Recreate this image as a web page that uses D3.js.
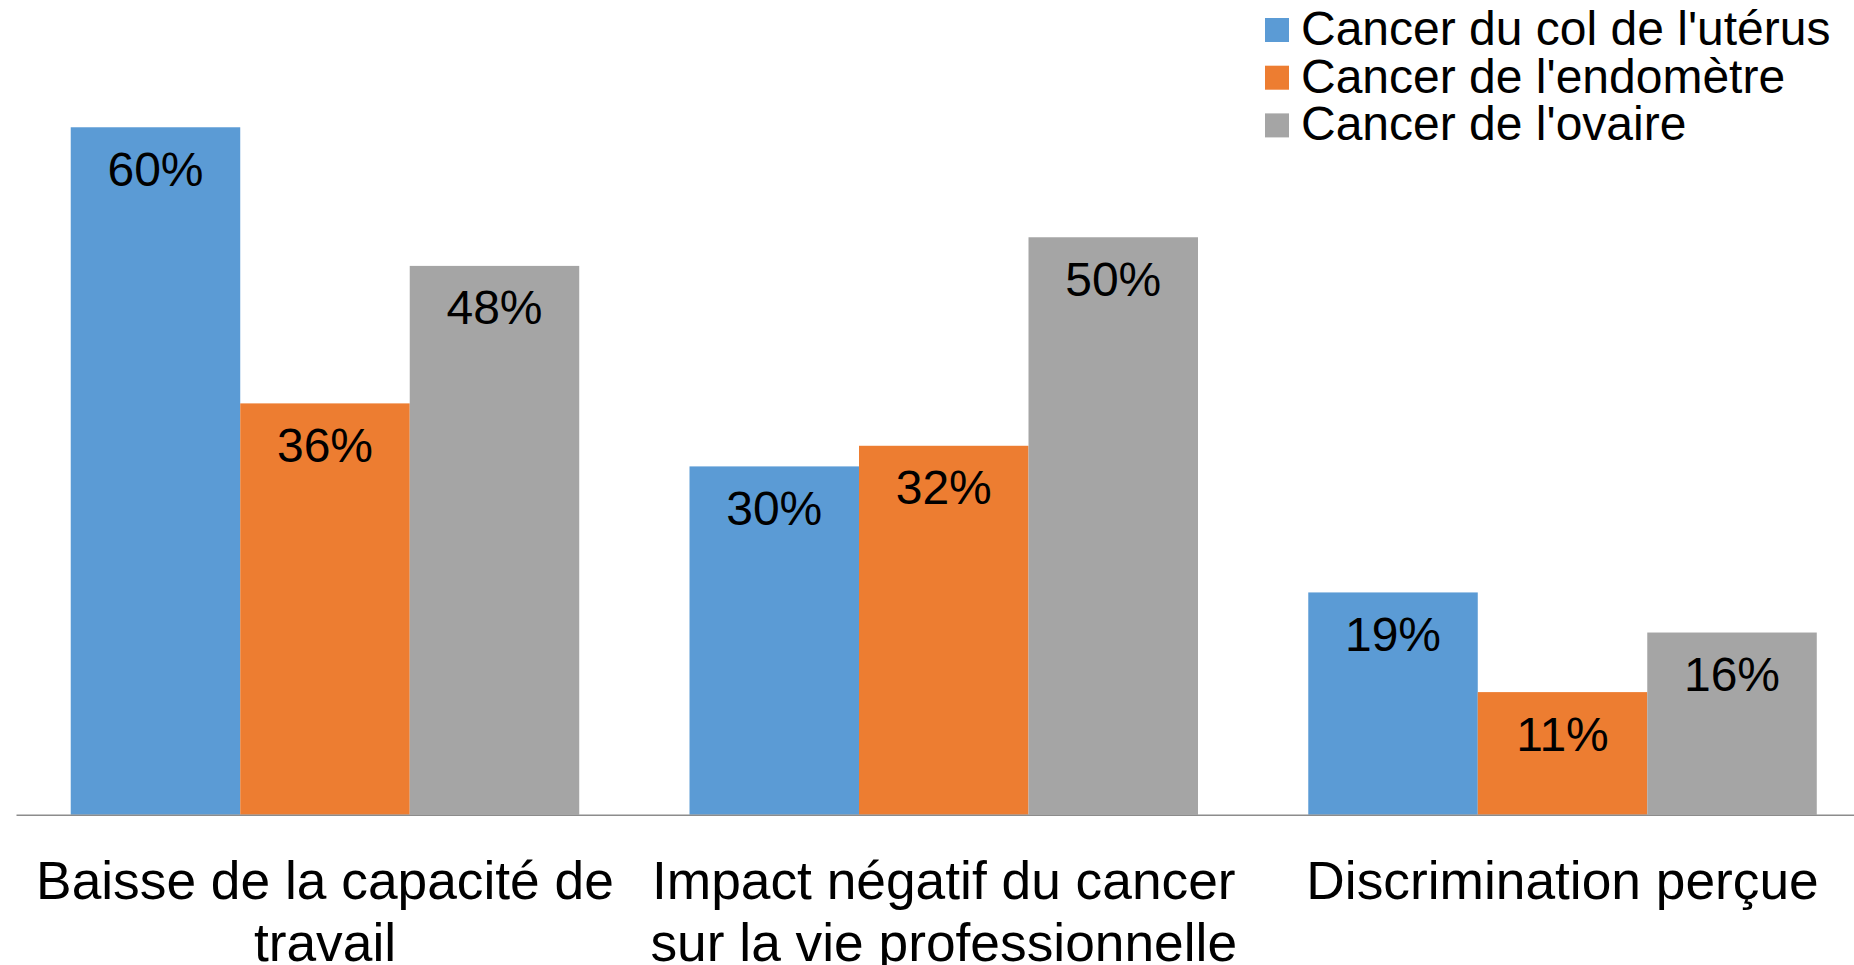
<!DOCTYPE html>
<html><head><meta charset="utf-8">
<script src="https://cdn.jsdelivr.net/npm/d3@7"></script>
<style>
html,body{margin:0;padding:0;background:#fff;}
svg{display:block;font-family:"Liberation Sans",Arial,Helvetica,sans-serif;}
</style></head>
<body><svg id="c" width="1854" height="965"></svg>
<script>
const categories = [
  ["Baisse de la capacité de", "travail"],
  ["Impact négatif du cancer", "sur la vie professionnelle"],
  ["Discrimination perçue"]
];
const seriesNames = ["Cancer du col de l'utérus", "Cancer de l'endomètre", "Cancer de l'ovaire"];
const colors = ["#5B9BD5", "#ED7D31", "#A5A5A5"];
// bar heights
const colUterus = [60.0, 30.4, 19.4];
const endometre = [35.9, 32.2, 10.7];
const ovaire = [47.9, 50.4, 15.9];
const seriesValues = [colUterus, endometre, ovaire];
// data labels as printed on the picture
const colUterusLabels = ["60%", "30%", "19%"];
const endometreLabels = ["36%", "32%", "11%"];
const ovaireLabels = ["48%", "50%", "16%"];
const seriesLabels = [colUterusLabels, endometreLabels, ovaireLabels];

const svg = d3.select("#c");
const W = 1854, H = 965;
const baseY = 814.7, topY = 12.7;
const x0 = d3.scaleBand().domain(d3.range(categories.length)).range([15.6, 1871.9]).paddingInner(0.1782).paddingOuter(0.0891);
const x1 = d3.scaleBand().domain(d3.range(seriesNames.length)).range([0, x0.bandwidth()]);
const y = d3.scaleLinear().domain([0, 70]).range([baseY, topY]);

const g = svg.append("g");
categories.forEach((c, ci) => {
  seriesValues.forEach((vals, si) => {
    const v = vals[ci];
    const bx = x0(ci) + x1(si);
    g.append("rect").attr("x", bx).attr("y", y(v)).attr("width", x1.bandwidth()).attr("height", baseY - y(v)).attr("fill", colors[si]);
    g.append("text").attr("x", bx + x1.bandwidth() / 2).attr("y", y(v) + 58.5)
      .attr("text-anchor", "middle").attr("font-size", 48).attr("fill", "#000").text(seriesLabels[si][ci]);
  });
});

// axis
const xAxis = d3.axisBottom(d3.scalePoint().domain([]).range([16, W])).tickSize(0).tickSizeOuter(0);
const ax = svg.append("g").attr("transform", `translate(0,${baseY})`).call(xAxis);
ax.select(".domain").attr("stroke", "#8c8c8c").attr("stroke-width", 1.6);

// category labels
categories.forEach((lines, ci) => {
  const t = svg.append("text").attr("text-anchor", "middle").attr("font-size", 53.3).attr("fill", "#000");
  lines.forEach((ln, li) => {
    t.append("tspan").attr("x", x0(ci) + x0.bandwidth() / 2).attr("y", 898.5 + li * 62).text(ln);
  });
});

// legend
seriesNames.forEach((n, i) => {
  const yb = 45 + i * 47.7;
  svg.append("rect").attr("x", 1265).attr("y", yb - 27).attr("width", 24).attr("height", 24).attr("fill", colors[i]);
  svg.append("text").attr("x", 1301).attr("y", yb).attr("font-size", 48).attr("fill", "#000").text(n);
});
</script></body></html>
